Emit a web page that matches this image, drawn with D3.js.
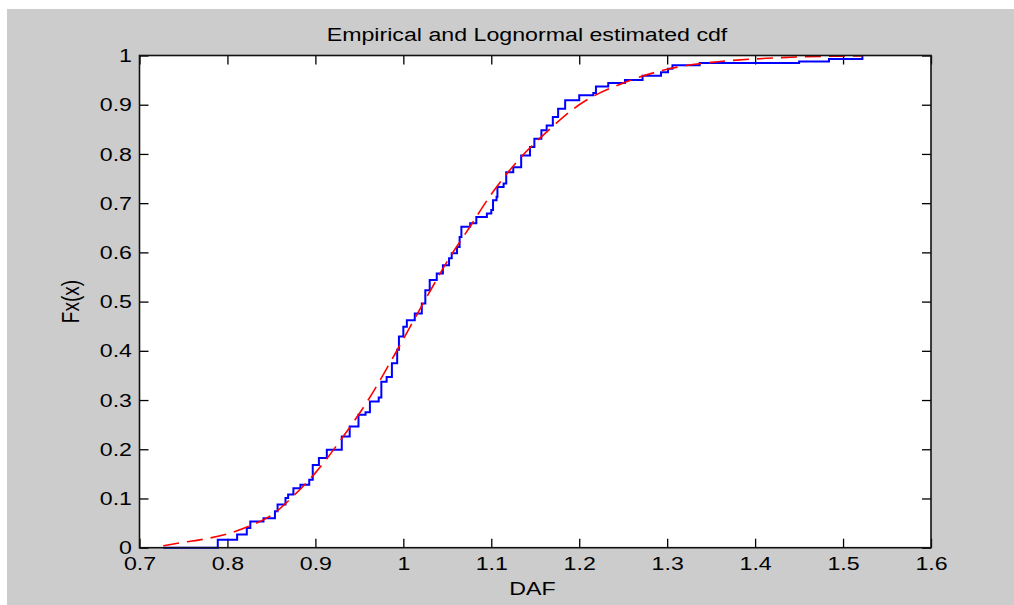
<!DOCTYPE html>
<html>
<head>
<meta charset="utf-8">
<script src="https://cdn.jsdelivr.net/npm/d3@7"></script>
<style>
  html, body { margin: 0; padding: 0; background: #fff; }
  svg { display: block; }
  text { font-family: "Liberation Sans", Arial, sans-serif; fill: #000; }
</style>
</head>
<body>
<div id="chart"></div>
<script>
// axis ticks
const xTicks = [0.7, 0.8, 0.9, 1.0, 1.1, 1.2, 1.3, 1.4, 1.5, 1.6]
const yTicks = [0, 0.1, 0.2, 0.3, 0.4, 0.5, 0.6, 0.7, 0.8, 0.9, 1]

// empirical cdf, stair points [x, F] (F holds from x until the next x)
const empX = [0.727, 0.789, 0.811, 0.822, 0.826, 0.841, 0.854, 0.857, 0.866, 0.869,
  0.875, 0.883, 0.893, 0.897, 0.904, 0.913, 0.930, 0.939, 0.949, 0.957,
  0.962, 0.972, 0.975, 0.981, 0.987, 0.993, 0.995, 1.000, 1.004, 1.013,
  1.021, 1.025, 1.030, 1.038, 1.045, 1.052, 1.055, 1.061, 1.064, 1.066,
  1.076, 1.083, 1.095, 1.100, 1.102, 1.106, 1.107, 1.114, 1.117, 1.125,
  1.134, 1.144, 1.149, 1.157, 1.163, 1.170, 1.176, 1.184, 1.200, 1.216,
  1.219, 1.233, 1.252, 1.272, 1.293, 1.301, 1.306, 1.337, 1.450, 1.484, 1.522]
const empF = [0, 0.016, 0.027, 0.040, 0.053, 0.060, 0.074, 0.088, 0.101, 0.108,
  0.121, 0.128, 0.138, 0.168, 0.182, 0.199, 0.226, 0.246, 0.270, 0.275,
  0.297, 0.305, 0.337, 0.347, 0.375, 0.402, 0.429, 0.449, 0.462, 0.476,
  0.496, 0.523, 0.544, 0.557, 0.574, 0.588, 0.598, 0.611, 0.631, 0.652,
  0.659, 0.672, 0.679, 0.686, 0.706, 0.713, 0.733, 0.740, 0.763, 0.773,
  0.797, 0.814, 0.831, 0.848, 0.858, 0.875, 0.892, 0.909, 0.919, 0.924,
  0.937, 0.944, 0.950, 0.959, 0.966, 0.973, 0.980, 0.985, 0.988, 0.993, 1.0]

// lognormal estimated cdf
const fitX = [0.727, 0.750, 0.775, 0.800, 0.825, 0.850, 0.875, 0.900, 0.930, 0.960,
  0.990, 1.010, 1.030, 1.050, 1.075, 1.100, 1.130, 1.165, 1.200, 1.250,
  1.300, 1.350, 1.400, 1.450, 1.522]
const fitF = [0.004, 0.011, 0.018, 0.028, 0.044, 0.066, 0.105, 0.152, 0.222, 0.300,
  0.392, 0.456, 0.520, 0.582, 0.650, 0.718, 0.786, 0.848, 0.900, 0.944,
  0.972, 0.986, 0.993, 0.997, 0.999]

const WIDTH = 1014, HEIGHT = 605
const PLOT = { left: 139.5, right: 931, top: 55.5, bottom: 547.7 }
const STRETCH = 1.22   // glyphs are drawn wide in the original

const svg = d3.select('#chart').append('svg')
  .attr('width', WIDTH)
  .attr('height', HEIGHT)

// grey figure background
svg.append('rect')
  .attr('x', 7).attr('y', 9)
  .attr('width', WIDTH - 7).attr('height', HEIGHT - 9)
  .attr('fill', '#cccccc')

// white axes area
svg.append('rect')
  .attr('x', PLOT.left).attr('y', PLOT.top)
  .attr('width', PLOT.right - PLOT.left).attr('height', PLOT.bottom - PLOT.top)
  .attr('fill', '#fff')

const x = d3.scaleLinear().domain([0.7, 1.6]).range([PLOT.left, PLOT.right])
const y = d3.scaleLinear().domain([0, 1]).range([PLOT.bottom, PLOT.top])
const fmt = d3.format('~g')

// ── axes ─────────────────────────────────────────────────────
const styleAxis = g => {
  g.select('.domain').remove()
  g.selectAll('.tick line').attr('stroke', '#000').attr('stroke-width', 1.3)
}

svg.append('g')
  .attr('transform', `translate(0,${PLOT.bottom})`)
  .call(d3.axisBottom(x).tickValues(xTicks).tickFormat(fmt).tickSizeInner(-9).tickSizeOuter(0).tickPadding(9))
  .call(styleAxis)
  .selectAll('text')
  .attr('font-size', 19).attr('font-family', null)
  .attr('transform', `scale(${STRETCH},1)`)

svg.append('g')
  .attr('transform', `translate(0,${PLOT.top})`)
  .call(d3.axisTop(x).tickValues(xTicks).tickFormat('').tickSizeInner(-9).tickSizeOuter(0))
  .call(styleAxis)

svg.append('g')
  .attr('transform', `translate(${PLOT.left},0)`)
  .call(d3.axisLeft(y).tickValues(yTicks).tickFormat(fmt).tickSizeInner(-9).tickSizeOuter(0))
  .call(styleAxis)
  .selectAll('text')
  .attr('font-size', 19).attr('font-family', null)
  .attr('x', -7.5 / STRETCH)
  .attr('transform', `scale(${STRETCH},1)`)

svg.append('g')
  .attr('transform', `translate(${PLOT.right},0)`)
  .call(d3.axisRight(y).tickValues(yTicks).tickFormat('').tickSizeInner(-9).tickSizeOuter(0))
  .call(styleAxis)

// ── lines ────────────────────────────────────────────────────
const empirical = empX.map((v, i) => [v, empF[i]])
const fitted = fitX.map((v, i) => [v, fitF[i]])

svg.append('path')
  .datum(empirical)
  .attr('fill', 'none')
  .attr('stroke', '#0000ff')
  .attr('stroke-width', 2)
  .attr('d', d3.line().x(d => x(d[0])).y(d => y(d[1])).curve(d3.curveStepAfter))

svg.append('path')
  .datum(fitted)
  .attr('fill', 'none')
  .attr('stroke', '#ff0000')
  .attr('stroke-width', 1.6)
  .attr('stroke-dasharray', '16,8')
  .attr('d', d3.line().x(d => x(d[0])).y(d => y(d[1])).curve(d3.curveMonotoneX))

// axes box
svg.append('rect')
  .attr('x', PLOT.left).attr('y', PLOT.top)
  .attr('width', PLOT.right - PLOT.left).attr('height', PLOT.bottom - PLOT.top)
  .attr('fill', 'none')
  .attr('stroke', '#111')
  .attr('stroke-width', 1.6)

// ── labels ───────────────────────────────────────────────────
svg.append('text')
  .attr('transform', `translate(527,40.7) scale(${STRETCH},1)`)
  .attr('text-anchor', 'middle')
  .attr('font-size', 19)
  .text('Empirical and Lognormal estimated cdf')

svg.append('text')
  .attr('transform', `translate(532.5,595) scale(${STRETCH},1)`)
  .attr('text-anchor', 'middle')
  .attr('font-size', 19)
  .text('DAF')

svg.append('text')
  .attr('transform', `translate(79,301.5) rotate(-90) scale(1,${STRETCH})`)
  .attr('text-anchor', 'middle')
  .attr('font-size', 19)
  .text('Fx(x)')
</script>
</body>
</html>
